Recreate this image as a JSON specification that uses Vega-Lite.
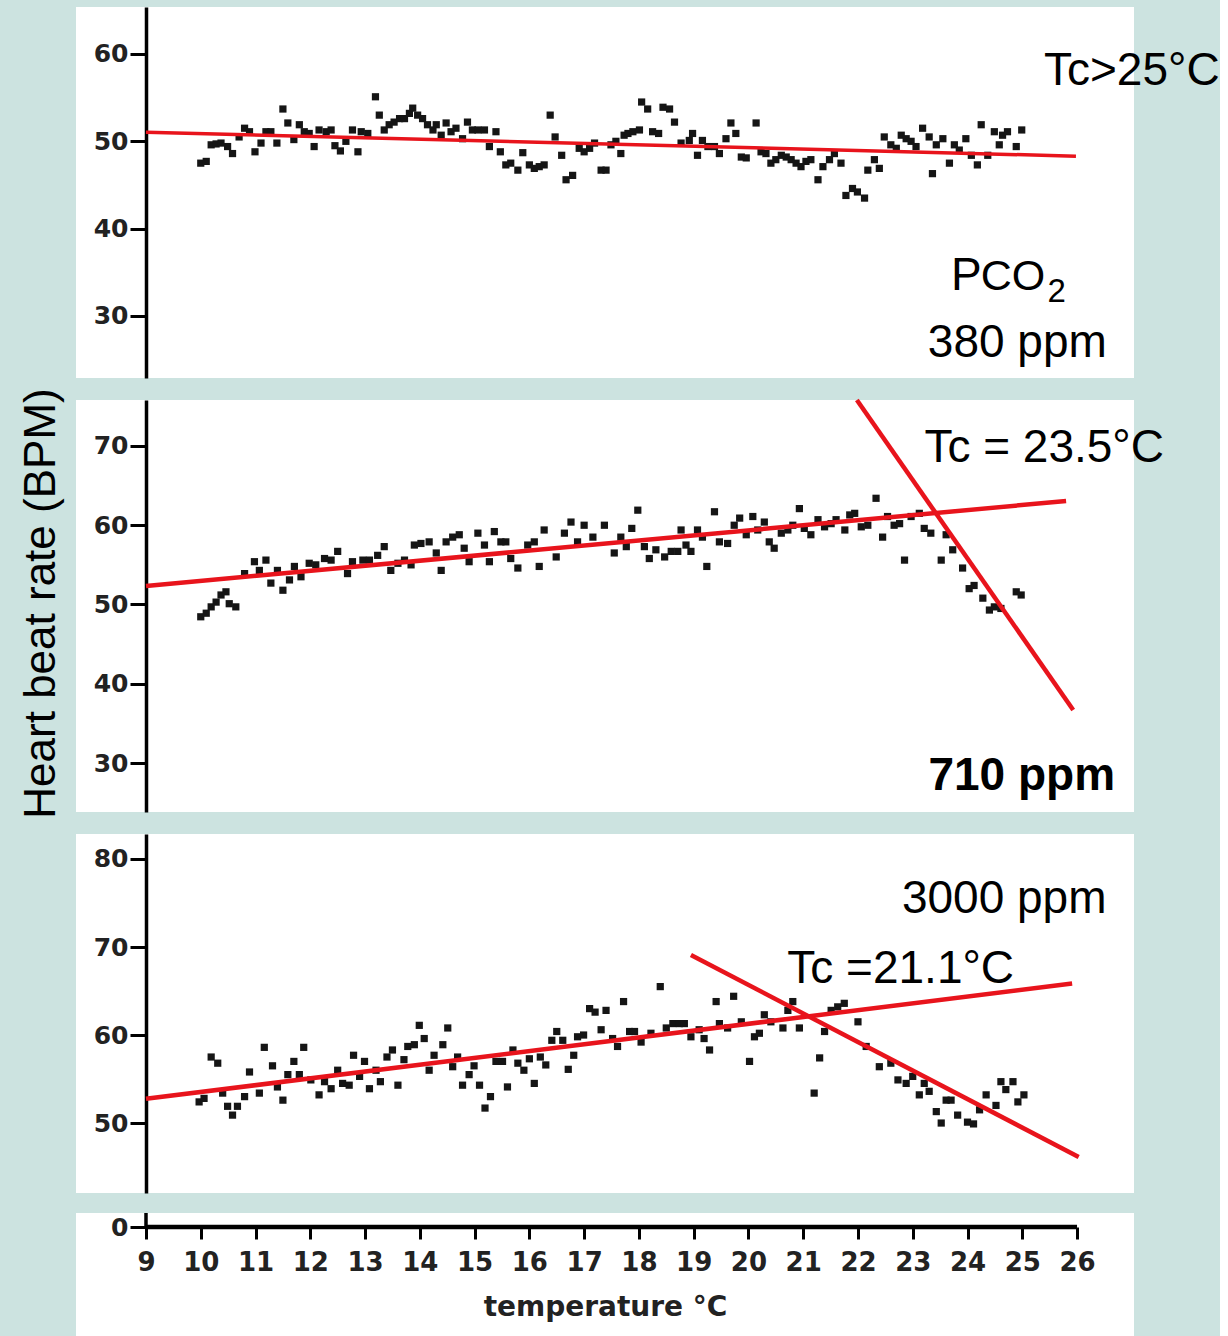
{
  "$schema": "https://vega.github.io/schema/vega-lite/v6.json",
  "background": "#cce3e0",
  "padding": {"left": 18, "top": 7, "right": 0, "bottom": 0},
  "config": {"view": {"fill": "white", "stroke": null}, "font": "Liberation Sans"},
  "datasets": {
    "p1": [
      {"t":10.0,"bpm":47.5},{"t":10.1,"bpm":47.7},{"t":10.19,"bpm":49.6},{"t":10.28,"bpm":49.7},{"t":10.37,"bpm":49.8},{"t":10.49,"bpm":49.4},{"t":10.58,"bpm":48.6},{"t":10.7,"bpm":50.5},{"t":10.8,"bpm":51.5},{"t":10.89,"bpm":51.1},{"t":10.99,"bpm":48.8},{"t":11.1,"bpm":49.8},{"t":11.19,"bpm":51.1},{"t":11.28,"bpm":51.1},{"t":11.39,"bpm":49.8},{"t":11.5,"bpm":53.7},{"t":11.59,"bpm":52.1},{"t":11.7,"bpm":50.2},{"t":11.8,"bpm":51.9},{"t":11.89,"bpm":51.1},{"t":11.98,"bpm":50.9},{"t":12.07,"bpm":49.4},{"t":12.16,"bpm":51.3},{"t":12.29,"bpm":51.1},{"t":12.38,"bpm":51.3},{"t":12.45,"bpm":49.5},{"t":12.55,"bpm":48.9},{"t":12.65,"bpm":50.0},{"t":12.77,"bpm":51.3},{"t":12.87,"bpm":48.8},{"t":12.93,"bpm":51.1},{"t":13.05,"bpm":50.9},{"t":13.19,"bpm":55.1},{"t":13.26,"bpm":53.0},{"t":13.35,"bpm":51.3},{"t":13.44,"bpm":51.9},{"t":13.53,"bpm":52.2},{"t":13.63,"bpm":52.6},{"t":13.72,"bpm":52.6},{"t":13.81,"bpm":53.2},{"t":13.87,"bpm":53.8},{"t":13.96,"bpm":53.0},{"t":14.05,"bpm":52.6},{"t":14.14,"bpm":51.9},{"t":14.24,"bpm":51.3},{"t":14.3,"bpm":51.9},{"t":14.39,"bpm":50.7},{"t":14.48,"bpm":52.1},{"t":14.57,"bpm":51.1},{"t":14.66,"bpm":51.5},{"t":14.78,"bpm":50.3},{"t":14.87,"bpm":52.2},{"t":14.96,"bpm":51.3},{"t":15.06,"bpm":51.3},{"t":15.18,"bpm":51.3},{"t":15.27,"bpm":49.4},{"t":15.39,"bpm":51.1},{"t":15.47,"bpm":48.8},{"t":15.57,"bpm":47.3},{"t":15.66,"bpm":47.5},{"t":15.79,"bpm":46.7},{"t":15.88,"bpm":48.7},{"t":16.0,"bpm":47.3},{"t":16.09,"bpm":46.9},{"t":16.18,"bpm":47.1},{"t":16.27,"bpm":47.3},{"t":16.38,"bpm":53.0},{"t":16.47,"bpm":50.5},{"t":16.59,"bpm":48.4},{"t":16.67,"bpm":45.6},{"t":16.79,"bpm":46.1},{"t":16.91,"bpm":49.2},{"t":17.0,"bpm":48.8},{"t":17.1,"bpm":49.2},{"t":17.19,"bpm":49.8},{"t":17.31,"bpm":46.7},{"t":17.4,"bpm":46.7},{"t":17.49,"bpm":49.6},{"t":17.58,"bpm":50.0},{"t":17.67,"bpm":48.6},{"t":17.73,"bpm":50.7},{"t":17.8,"bpm":50.9},{"t":17.89,"bpm":51.1},{"t":18.01,"bpm":51.3},{"t":18.05,"bpm":54.5},{"t":18.16,"bpm":53.7},{"t":18.25,"bpm":51.1},{"t":18.36,"bpm":50.9},{"t":18.44,"bpm":53.9},{"t":18.56,"bpm":53.7},{"t":18.65,"bpm":52.2},{"t":18.77,"bpm":49.8},{"t":18.92,"bpm":50.1},{"t":18.98,"bpm":50.9},{"t":19.07,"bpm":48.4},{"t":19.16,"bpm":50.1},{"t":19.26,"bpm":49.4},{"t":19.38,"bpm":49.4},{"t":19.47,"bpm":48.6},{"t":19.59,"bpm":50.3},{"t":19.68,"bpm":52.1},{"t":19.77,"bpm":50.9},{"t":19.87,"bpm":48.2},{"t":19.96,"bpm":48.1},{"t":20.14,"bpm":52.1},{"t":20.23,"bpm":48.8},{"t":20.32,"bpm":48.6},{"t":20.41,"bpm":47.5},{"t":20.5,"bpm":47.9},{"t":20.6,"bpm":48.4},{"t":20.69,"bpm":48.2},{"t":20.78,"bpm":47.9},{"t":20.87,"bpm":47.5},{"t":20.96,"bpm":47.1},{"t":21.05,"bpm":47.7},{"t":21.14,"bpm":47.9},{"t":21.27,"bpm":45.6},{"t":21.36,"bpm":47.1},{"t":21.48,"bpm":47.9},{"t":21.57,"bpm":48.6},{"t":21.69,"bpm":47.5},{"t":21.78,"bpm":43.8},{"t":21.9,"bpm":44.6},{"t":21.99,"bpm":44.2},{"t":22.12,"bpm":43.5},{"t":22.18,"bpm":46.7},{"t":22.3,"bpm":47.9},{"t":22.39,"bpm":46.9},{"t":22.48,"bpm":50.5},{"t":22.6,"bpm":49.6},{"t":22.7,"bpm":49.2},{"t":22.79,"bpm":50.7},{"t":22.88,"bpm":50.3},{"t":22.97,"bpm":50.0},{"t":23.06,"bpm":49.4},{"t":23.18,"bpm":51.5},{"t":23.3,"bpm":50.5},{"t":23.36,"bpm":46.3},{"t":23.43,"bpm":49.6},{"t":23.55,"bpm":50.3},{"t":23.67,"bpm":47.5},{"t":23.76,"bpm":49.6},{"t":23.85,"bpm":49.0},{"t":23.97,"bpm":50.3},{"t":24.07,"bpm":48.4},{"t":24.18,"bpm":47.3},{"t":24.25,"bpm":51.9},{"t":24.37,"bpm":48.4},{"t":24.49,"bpm":51.1},{"t":24.58,"bpm":49.6},{"t":24.64,"bpm":50.7},{"t":24.73,"bpm":51.1},{"t":24.89,"bpm":49.4},{"t":24.99,"bpm":51.3}
    ],
    "p2": [
      {"t":10.0,"bpm":48.45},{"t":10.1,"bpm":48.9},{"t":10.19,"bpm":49.7},{"t":10.28,"bpm":50.3},{"t":10.37,"bpm":51.2},{"t":10.46,"bpm":51.6},{"t":10.52,"bpm":50.1},{"t":10.64,"bpm":49.7},{"t":10.8,"bpm":53.9},{"t":10.98,"bpm":55.4},{"t":11.07,"bpm":54.3},{"t":11.19,"bpm":55.6},{"t":11.28,"bpm":52.7},{"t":11.4,"bpm":54.3},{"t":11.5,"bpm":51.8},{"t":11.62,"bpm":53.1},{"t":11.71,"bpm":54.8},{"t":11.83,"bpm":53.5},{"t":11.98,"bpm":55.2},{"t":12.1,"bpm":55.0},{"t":12.26,"bpm":55.8},{"t":12.38,"bpm":55.6},{"t":12.5,"bpm":56.7},{"t":12.68,"bpm":53.9},{"t":12.77,"bpm":55.4},{"t":12.96,"bpm":55.6},{"t":13.08,"bpm":55.6},{"t":13.23,"bpm":56.2},{"t":13.35,"bpm":57.3},{"t":13.47,"bpm":54.3},{"t":13.6,"bpm":55.2},{"t":13.72,"bpm":55.6},{"t":13.84,"bpm":55.0},{"t":13.9,"bpm":57.5},{"t":14.02,"bpm":57.7},{"t":14.17,"bpm":57.9},{"t":14.3,"bpm":56.5},{"t":14.39,"bpm":54.3},{"t":14.48,"bpm":57.9},{"t":14.6,"bpm":58.5},{"t":14.72,"bpm":58.8},{"t":14.81,"bpm":57.1},{"t":14.9,"bpm":55.4},{"t":15.06,"bpm":59.0},{"t":15.18,"bpm":57.5},{"t":15.27,"bpm":55.4},{"t":15.36,"bpm":59.2},{"t":15.48,"bpm":57.9},{"t":15.57,"bpm":57.9},{"t":15.66,"bpm":55.8},{"t":15.79,"bpm":54.6},{"t":15.97,"bpm":57.5},{"t":16.09,"bpm":57.9},{"t":16.18,"bpm":54.8},{"t":16.27,"bpm":59.4},{"t":16.49,"bpm":56.0},{"t":16.64,"bpm":59.0},{"t":16.76,"bpm":60.4},{"t":16.88,"bpm":57.9},{"t":17.0,"bpm":60.0},{"t":17.16,"bpm":58.5},{"t":17.37,"bpm":60.0},{"t":17.55,"bpm":56.5},{"t":17.67,"bpm":58.5},{"t":17.77,"bpm":57.3},{"t":17.87,"bpm":59.6},{"t":17.98,"bpm":61.9},{"t":18.1,"bpm":57.3},{"t":18.19,"bpm":55.8},{"t":18.31,"bpm":56.9},{"t":18.47,"bpm":56.0},{"t":18.59,"bpm":56.7},{"t":18.71,"bpm":56.7},{"t":18.77,"bpm":59.4},{"t":18.86,"bpm":57.5},{"t":18.95,"bpm":56.7},{"t":19.07,"bpm":59.4},{"t":19.16,"bpm":58.5},{"t":19.24,"bpm":54.8},{"t":19.38,"bpm":61.7},{"t":19.47,"bpm":57.9},{"t":19.62,"bpm":57.7},{"t":19.74,"bpm":60.0},{"t":19.84,"bpm":60.9},{"t":19.96,"bpm":58.8},{"t":20.08,"bpm":61.1},{"t":20.17,"bpm":59.4},{"t":20.29,"bpm":60.4},{"t":20.38,"bpm":57.9},{"t":20.47,"bpm":57.1},{"t":20.6,"bpm":59.0},{"t":20.72,"bpm":59.4},{"t":20.81,"bpm":60.0},{"t":20.93,"bpm":62.1},{"t":21.02,"bpm":59.6},{"t":21.14,"bpm":58.8},{"t":21.27,"bpm":60.7},{"t":21.39,"bpm":59.8},{"t":21.51,"bpm":60.2},{"t":21.6,"bpm":60.7},{"t":21.76,"bpm":59.4},{"t":21.85,"bpm":61.3},{"t":21.94,"bpm":61.5},{"t":22.06,"bpm":59.8},{"t":22.18,"bpm":60.0},{"t":22.33,"bpm":63.4},{"t":22.45,"bpm":58.5},{"t":22.54,"bpm":61.1},{"t":22.66,"bpm":60.0},{"t":22.76,"bpm":60.2},{"t":22.85,"bpm":55.6},{"t":22.97,"bpm":61.1},{"t":23.12,"bpm":61.5},{"t":23.21,"bpm":59.6},{"t":23.33,"bpm":59.0},{"t":23.52,"bpm":55.6},{"t":23.61,"bpm":58.8},{"t":23.73,"bpm":56.9},{"t":23.91,"bpm":54.6},{"t":24.03,"bpm":52.0},{"t":24.12,"bpm":52.4},{"t":24.28,"bpm":50.8},{"t":24.4,"bpm":49.3},{"t":24.49,"bpm":49.7},{"t":24.61,"bpm":49.5},{"t":24.89,"bpm":51.6},{"t":24.98,"bpm":51.2}
    ],
    "p3": [
      {"t":9.97,"bpm":52.4},{"t":10.06,"bpm":52.8},{"t":10.19,"bpm":57.5},{"t":10.31,"bpm":56.8},{"t":10.4,"bpm":53.4},{"t":10.49,"bpm":51.9},{"t":10.58,"bpm":50.9},{"t":10.67,"bpm":51.9},{"t":10.8,"bpm":53.0},{"t":10.89,"bpm":55.8},{"t":11.07,"bpm":53.4},{"t":11.16,"bpm":58.6},{"t":11.31,"bpm":56.5},{"t":11.4,"bpm":54.1},{"t":11.5,"bpm":52.6},{"t":11.59,"bpm":55.5},{"t":11.7,"bpm":57.0},{"t":11.8,"bpm":55.5},{"t":11.88,"bpm":58.6},{"t":12.01,"bpm":54.9},{"t":12.16,"bpm":53.2},{"t":12.26,"bpm":54.7},{"t":12.38,"bpm":53.9},{"t":12.5,"bpm":56.0},{"t":12.59,"bpm":54.5},{"t":12.71,"bpm":54.3},{"t":12.79,"bpm":57.7},{"t":12.9,"bpm":55.3},{"t":12.99,"bpm":57.0},{"t":13.08,"bpm":53.9},{"t":13.2,"bpm":56.0},{"t":13.28,"bpm":54.7},{"t":13.4,"bpm":57.5},{"t":13.5,"bpm":58.3},{"t":13.6,"bpm":54.3},{"t":13.71,"bpm":57.2},{"t":13.78,"bpm":58.7},{"t":13.9,"bpm":58.9},{"t":13.99,"bpm":61.1},{"t":14.08,"bpm":59.6},{"t":14.17,"bpm":56.0},{"t":14.26,"bpm":57.7},{"t":14.42,"bpm":58.9},{"t":14.51,"bpm":60.8},{"t":14.6,"bpm":56.4},{"t":14.69,"bpm":57.5},{"t":14.78,"bpm":54.3},{"t":14.9,"bpm":55.5},{"t":14.99,"bpm":56.5},{"t":15.09,"bpm":54.3},{"t":15.19,"bpm":51.7},{"t":15.29,"bpm":53.0},{"t":15.39,"bpm":57.0},{"t":15.51,"bpm":57.0},{"t":15.6,"bpm":54.1},{"t":15.7,"bpm":58.3},{"t":15.79,"bpm":56.8},{"t":15.9,"bpm":56.0},{"t":16.0,"bpm":57.3},{"t":16.09,"bpm":54.5},{"t":16.2,"bpm":57.5},{"t":16.3,"bpm":56.6},{"t":16.41,"bpm":59.4},{"t":16.5,"bpm":60.4},{"t":16.61,"bpm":59.4},{"t":16.71,"bpm":56.1},{"t":16.81,"bpm":57.7},{"t":16.88,"bpm":59.8},{"t":16.99,"bpm":60.0},{"t":17.1,"bpm":63.0},{"t":17.2,"bpm":62.6},{"t":17.31,"bpm":60.6},{"t":17.4,"bpm":62.8},{"t":17.52,"bpm":59.6},{"t":17.61,"bpm":58.7},{"t":17.72,"bpm":63.8},{"t":17.83,"bpm":60.4},{"t":17.92,"bpm":60.4},{"t":18.04,"bpm":59.2},{"t":18.22,"bpm":60.2},{"t":18.39,"bpm":65.5},{"t":18.5,"bpm":60.8},{"t":18.62,"bpm":61.3},{"t":18.74,"bpm":61.3},{"t":18.83,"bpm":61.3},{"t":18.95,"bpm":59.8},{"t":19.1,"bpm":60.6},{"t":19.19,"bpm":59.6},{"t":19.29,"bpm":58.3},{"t":19.41,"bpm":63.8},{"t":19.47,"bpm":61.3},{"t":19.62,"bpm":60.8},{"t":19.73,"bpm":64.4},{"t":19.87,"bpm":61.5},{"t":20.02,"bpm":57.0},{"t":20.11,"bpm":59.8},{"t":20.2,"bpm":60.2},{"t":20.29,"bpm":62.3},{"t":20.41,"bpm":61.5},{"t":20.63,"bpm":60.8},{"t":20.72,"bpm":62.8},{"t":20.81,"bpm":63.8},{"t":20.93,"bpm":60.8},{"t":21.2,"bpm":53.4},{"t":21.3,"bpm":57.4},{"t":21.39,"bpm":60.4},{"t":21.51,"bpm":62.8},{"t":21.63,"bpm":63.2},{"t":21.75,"bpm":63.6},{"t":22.0,"bpm":61.5},{"t":22.15,"bpm":58.7},{"t":22.39,"bpm":56.4},{"t":22.6,"bpm":56.8},{"t":22.73,"bpm":54.9},{"t":22.88,"bpm":54.5},{"t":23.0,"bpm":55.3},{"t":23.12,"bpm":53.2},{"t":23.21,"bpm":54.5},{"t":23.3,"bpm":53.6},{"t":23.43,"bpm":51.3},{"t":23.52,"bpm":50.0},{"t":23.61,"bpm":52.6},{"t":23.7,"bpm":52.6},{"t":23.82,"bpm":50.9},{"t":24.0,"bpm":50.1},{"t":24.11,"bpm":49.9},{"t":24.22,"bpm":51.5},{"t":24.34,"bpm":53.2},{"t":24.52,"bpm":52.0},{"t":24.61,"bpm":54.7},{"t":24.7,"bpm":53.8},{"t":24.83,"bpm":54.7},{"t":24.92,"bpm":52.4},{"t":25.03,"bpm":53.2}
    ],
    "l1": [{"seg":"a","t":9,"bpm":51.05},{"seg":"a","t":25.98,"bpm":48.3}],
    "l2": [{"seg":"a","t":9,"bpm":52.33},{"seg":"a","t":25.8,"bpm":63.06},{"seg":"b","t":21.98,"bpm":75.8},{"seg":"b","t":25.93,"bpm":36.69}],
    "l3": [{"seg":"a","t":9,"bpm":52.75},{"seg":"a","t":25.91,"bpm":65.85},{"seg":"b","t":18.95,"bpm":69.09},{"seg":"b","t":26.03,"bpm":46.14}]
  },
  "spacing": 18,
  "bounds": "full",
  "vconcat": [
    {
      "spacing": 22,
      "bounds": "flush",
      "vconcat": [
        {
          "width": 1058, "height": 371,
          "layer": [
            {
              "data": {"name": "p1"},
              "mark": {"type": "point", "shape": "square", "filled": true, "size": 52, "color": "#151515", "opacity": 1},
              "encoding": {
                "x": {"field": "t", "type": "quantitative", "scale": {"domain": [7.722, 27.04], "nice": false, "zero": false}, "axis": null},
                "y": {"field": "bpm", "type": "quantitative", "scale": {"domain": [22.9, 65.38], "nice": false, "zero": false},
                  "axis": {"values": [30, 40, 50, 60], "title": null, "offset": -70, "grid": false, "domainColor": "black", "domainWidth": 3.5, "tickColor": "black", "tickWidth": 3, "tickSize": 16, "labelFont": "DejaVu Sans", "labelFontWeight": "bold", "labelFontSize": 25, "labelColor": "#222", "labelPadding": 2}}
              }
            },
            {
              "data": {"name": "l1"},
              "mark": {"type": "line", "color": "#e8141c", "strokeWidth": 3.5},
              "encoding": {"x": {"field": "t", "type": "quantitative"}, "y": {"field": "bpm", "type": "quantitative"}, "detail": {"field": "seg"}}
            },
            {
              "data": {"values": [{}]},
              "mark": {"type": "text", "font": "Liberation Sans", "fontSize": 46, "align": "center", "baseline": "alphabetic", "color": "black"},
              "encoding": {"x": {"datum": 27.0}, "y": {"datum": 56.45}, "text": {"value": "Tc>25°C"}}
            },
            {
              "data": {"values": [{}]},
              "mark": {"type": "text", "font": "Liberation Sans", "fontSize": 46, "align": "left", "baseline": "alphabetic", "color": "black"},
              "encoding": {"x": {"datum": 23.7}, "y": {"datum": 32.98}, "text": {"value": "P"}}
            },
            {
              "data": {"values": [{}]},
              "mark": {"type": "text", "font": "Liberation Sans", "fontSize": 43, "align": "left", "baseline": "alphabetic", "color": "black"},
              "encoding": {"x": {"datum": 24.24}, "y": {"datum": 32.98}, "text": {"value": "CO"}}
            },
            {
              "data": {"values": [{}]},
              "mark": {"type": "text", "font": "Liberation Sans", "fontSize": 33, "align": "left", "baseline": "alphabetic", "color": "black"},
              "encoding": {"x": {"datum": 25.46}, "y": {"datum": 31.6}, "text": {"value": "2"}}
            },
            {
              "data": {"values": [{}]},
              "mark": {"type": "text", "font": "Liberation Sans", "fontSize": 46, "align": "center", "baseline": "alphabetic", "color": "black"},
              "encoding": {"x": {"datum": 24.91}, "y": {"datum": 25.3}, "text": {"value": "380 ppm"}}
            }
          ]
        },
        {
          "width": 1058, "height": 412,
          "layer": [
            {
              "data": {"name": "p2"},
              "mark": {"type": "point", "shape": "square", "filled": true, "size": 52, "color": "#151515", "opacity": 1},
              "encoding": {
                "x": {"field": "t", "type": "quantitative", "scale": {"domain": [7.722, 27.04], "nice": false, "zero": false}, "axis": null},
                "y": {"field": "bpm", "type": "quantitative", "scale": {"domain": [23.82, 75.8], "nice": false, "zero": false},
                  "axis": {"values": [30, 40, 50, 60, 70], "title": "Heart beat rate (BPM)", "titleFont": "Liberation Sans", "titleFontSize": 44, "titleFontWeight": "normal", "titleColor": "black", "titleAngle": 270, "titleAlign": "center", "titleBaseline": "bottom", "titleX": -83, "titleY": 203, "offset": -70, "grid": false, "domainColor": "black", "domainWidth": 3.5, "tickColor": "black", "tickWidth": 3, "tickSize": 16, "labelFont": "DejaVu Sans", "labelFontWeight": "bold", "labelFontSize": 25, "labelColor": "#222", "labelPadding": 2}}
              }
            },
            {
              "data": {"name": "l2"},
              "mark": {"type": "line", "color": "#e8141c", "strokeWidth": 4.5},
              "encoding": {"x": {"field": "t", "type": "quantitative"}, "y": {"field": "bpm", "type": "quantitative"}, "detail": {"field": "seg"}}
            },
            {
              "data": {"values": [{}]},
              "mark": {"type": "text", "font": "Liberation Sans", "fontSize": 46, "align": "center", "baseline": "alphabetic", "color": "black"},
              "encoding": {"x": {"datum": 25.4}, "y": {"datum": 67.98}, "text": {"value": "Tc = 23.5°C"}}
            },
            {
              "data": {"values": [{}]},
              "mark": {"type": "text", "font": "Liberation Sans", "fontSize": 46, "fontWeight": "bold", "align": "center", "baseline": "alphabetic", "color": "black"},
              "encoding": {"x": {"datum": 24.99}, "y": {"datum": 26.6}, "text": {"value": "710 ppm"}}
            }
          ]
        },
        {
          "width": 1058, "height": 359,
          "layer": [
            {
              "data": {"name": "p3"},
              "mark": {"type": "point", "shape": "square", "filled": true, "size": 52, "color": "#151515", "opacity": 1},
              "encoding": {
                "x": {"field": "t", "type": "quantitative", "scale": {"domain": [7.722, 27.04], "nice": false, "zero": false}, "axis": null},
                "y": {"field": "bpm", "type": "quantitative", "scale": {"domain": [42.05, 82.84], "nice": false, "zero": false},
                  "axis": {"values": [50, 60, 70, 80], "title": null, "offset": -70, "grid": false, "domainColor": "black", "domainWidth": 3.5, "tickColor": "black", "tickWidth": 3, "tickSize": 16, "labelFont": "DejaVu Sans", "labelFontWeight": "bold", "labelFontSize": 25, "labelColor": "#222", "labelPadding": 2}}
              }
            },
            {
              "data": {"name": "l3"},
              "mark": {"type": "line", "color": "#e8141c", "strokeWidth": 4.5},
              "encoding": {"x": {"field": "t", "type": "quantitative"}, "y": {"field": "bpm", "type": "quantitative"}, "detail": {"field": "seg"}}
            },
            {
              "data": {"values": [{}]},
              "mark": {"type": "text", "font": "Liberation Sans", "fontSize": 46, "align": "center", "baseline": "alphabetic", "color": "black"},
              "encoding": {"x": {"datum": 24.67}, "y": {"datum": 73.86}, "text": {"value": "3000 ppm"}}
            },
            {
              "data": {"values": [{}]},
              "mark": {"type": "text", "font": "Liberation Sans", "fontSize": 46, "align": "center", "baseline": "alphabetic", "color": "black"},
              "encoding": {"x": {"datum": 22.78}, "y": {"datum": 65.9}, "text": {"value": "Tc =21.1°C"}}
            }
          ]
        }
      ]
    },
    {
      "width": 1058, "height": 125,
      "layer": [
        {
          "data": {"values": [{}]},
          "mark": {"type": "rule", "color": "black", "strokeWidth": 4.5},
          "encoding": {
            "x": {"datum": 9, "type": "quantitative", "scale": {"domain": [7.722, 27.04], "nice": false, "zero": false},
              "axis": {"values": [9,10,11,12,13,14,15,16,17,18,19,20,21,22,23,24,25,26], "title": "temperature °C", "orient": "bottom", "offset": -111, "domain": false, "grid": false, "tickColor": "black", "tickWidth": 3, "tickSize": 12, "labelFont": "DejaVu Sans", "labelFontWeight": "bold", "labelFontSize": 26, "labelColor": "#222", "labelPadding": 10, "titleFont": "DejaVu Sans", "titleFontWeight": "bold", "titleFontSize": 28, "titleColor": "#222", "titlePadding": 18}},
            "x2": {"datum": 26},
            "y": {"datum": 0, "type": "quantitative", "scale": {"domain": [-111, 14], "nice": false, "zero": false},
              "axis": {"values": [0], "title": null, "offset": -70, "domain": false, "grid": false, "tickColor": "black", "tickWidth": 3, "tickSize": 16, "labelFont": "DejaVu Sans", "labelFontWeight": "bold", "labelFontSize": 25, "labelColor": "#222", "labelPadding": 2}}
          }
        },
        {
          "data": {"values": [{}]},
          "mark": {"type": "rule", "color": "black", "strokeWidth": 3.5},
          "encoding": {"x": {"datum": 9}, "y": {"datum": 0}, "y2": {"datum": 14}}
        }
      ]
    }
  ]
}
